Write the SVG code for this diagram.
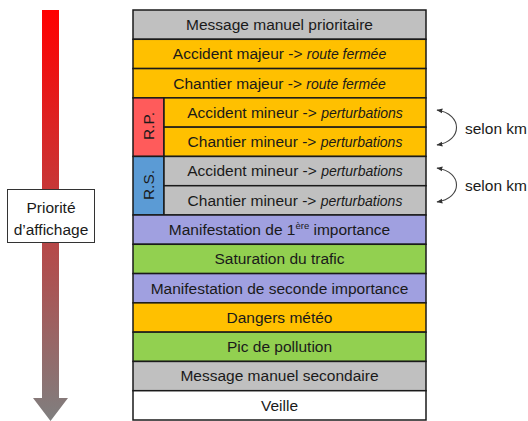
<svg xmlns="http://www.w3.org/2000/svg" width="528" height="421" viewBox="0 0 528 421">
<defs>
<linearGradient id="grad" gradientUnits="userSpaceOnUse" x1="0" y1="10" x2="0" y2="421">
<stop offset="0" stop-color="#FF0000"/>
<stop offset="1" stop-color="#7F7F7F"/>
</linearGradient>
<marker id="ah" viewBox="0 0 10 10" refX="9" refY="5" markerWidth="6" markerHeight="6" orient="auto-start-reverse" markerUnits="userSpaceOnUse">
<path d="M0,1 L10,5 L0,9 Z" fill="#333"/>
</marker>
<style>
.cell{stroke:#1a1a1a;stroke-width:1.5}
.t{font-family:"Liberation Sans",Arial,sans-serif;font-size:15.5px;fill:#1a1a1a;text-anchor:middle}
.i{font-style:italic;font-size:14px}
.gray{fill:#C0C0C0}.orange{fill:#FFC000}.red{fill:#FF5B5B}.blue{fill:#5B9BD5}.lav{fill:#A0A0E0}.green{fill:#92D050}.white{fill:#FFFFFF}
.curve{fill:none;stroke:#444;stroke-width:1.1;marker-start:url(#ah);marker-end:url(#ah)}
</style>
</defs>
<g id="priority-arrow">
<path d="M42,10 H59 V398 H68 L50.5,421 L33,398 H42 Z" fill="url(#grad)"/>
</g>
<g id="priority-label">
<rect x="7.5" y="189.5" width="87" height="53" fill="#fff" stroke="#333" stroke-width="1"/>
<text class="t" x="51" y="213">Priorité</text>
<text class="t" x="51" y="235">d’affichage</text>
</g>
<g id="row-msg-prio"><rect class="cell gray" x="133" y="10" width="293" height="29.29"/><text class="t" x="279.5" y="30">Message manuel prioritaire</text></g>
<g id="row-acc-maj"><rect class="cell orange" x="133" y="39.29" width="293" height="29.29"/><text class="t" x="279.5" y="59.3">Accident majeur -&gt; <tspan class="i">route fermée</tspan></text></g>
<g id="row-chan-maj"><rect class="cell orange" x="133" y="68.57" width="293" height="29.29"/><text class="t" x="279.5" y="88.6">Chantier majeur -&gt; <tspan class="i">route fermée</tspan></text></g>
<g id="rp-label"><rect class="cell red" x="133" y="97.86" width="31" height="58.57"/><text class="t" transform="translate(154,126) rotate(-90)">R.P.</text></g>
<g id="row-rp-acc"><rect class="cell orange" x="164" y="97.86" width="262" height="29.29"/><text class="t" x="295" y="117.9">Accident mineur -&gt; <tspan class="i">perturbations</tspan></text></g>
<g id="row-rp-chan"><rect class="cell orange" x="164" y="127.14" width="262" height="29.29"/><text class="t" x="295" y="147.2">Chantier mineur -&gt; <tspan class="i">perturbations</tspan></text></g>
<g id="rs-label"><rect class="cell blue" x="133" y="156.43" width="31" height="58.57"/><text class="t" transform="translate(154,185) rotate(-90)">R.S.</text></g>
<g id="row-rs-acc"><rect class="cell gray" x="164" y="156.43" width="262" height="29.29"/><text class="t" x="295" y="176.4">Accident mineur -&gt; <tspan class="i">perturbations</tspan></text></g>
<g id="row-rs-chan"><rect class="cell gray" x="164" y="185.71" width="262" height="29.29"/><text class="t" x="295" y="205.7">Chantier mineur -&gt; <tspan class="i">perturbations</tspan></text></g>
<g id="row-manif1"><rect class="cell lav" x="133" y="215" width="293" height="29.29"/><text class="t" x="279.5" y="235">Manifestation de 1<tspan font-size="9.5" dy="-6">ère</tspan><tspan dy="6"> importance</tspan></text></g>
<g id="row-satur"><rect class="cell green" x="133" y="244.29" width="293" height="29.29"/><text class="t" x="279.5" y="264.3">Saturation du trafic</text></g>
<g id="row-manif2"><rect class="cell lav" x="133" y="273.57" width="293" height="29.29"/><text class="t" x="279.5" y="293.6">Manifestation de seconde importance</text></g>
<g id="row-meteo"><rect class="cell orange" x="133" y="302.86" width="293" height="29.29"/><text class="t" x="279.5" y="322.9">Dangers météo</text></g>
<g id="row-pollution"><rect class="cell green" x="133" y="332.14" width="293" height="29.29"/><text class="t" x="279.5" y="352.1">Pic de pollution</text></g>
<g id="row-msg-sec"><rect class="cell gray" x="133" y="361.43" width="293" height="29.29"/><text class="t" x="279.5" y="381.4">Message manuel secondaire</text></g>
<g id="row-veille"><rect class="cell white" x="133" y="390.71" width="293" height="29.29"/><text class="t" x="279.5" y="410.7">Veille</text></g>
<g id="connectors">
<path class="curve" d="M437,110 C463,114 463,141 437,145"/>
<path class="curve" d="M437,168 C463,172 463,198 437,202"/>
</g>
<g id="notes">
<text class="t" x="465" y="133.5" style="text-anchor:start">selon km</text>
<text class="t" x="465" y="190.5" style="text-anchor:start">selon km</text>
</g>
</svg>
